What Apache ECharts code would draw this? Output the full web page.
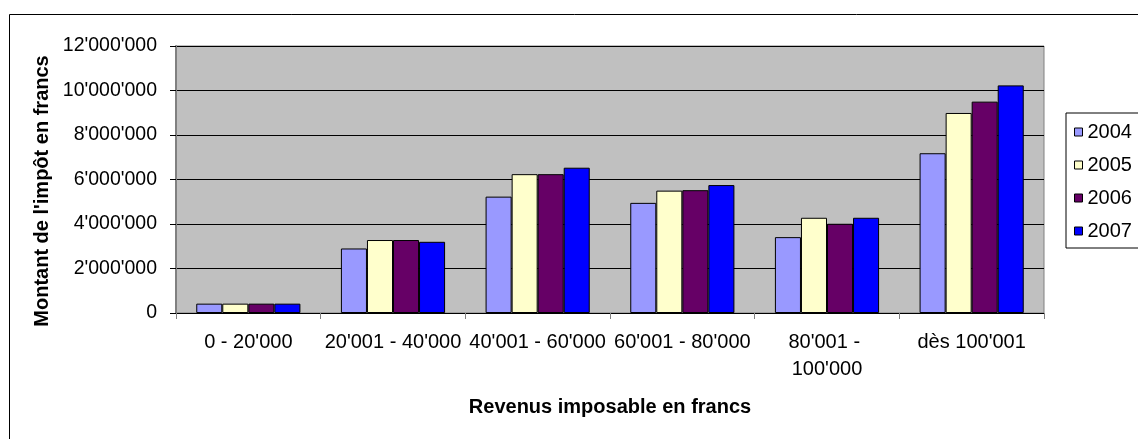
<!DOCTYPE html>
<html>
<head>
<meta charset="utf-8">
<script src="https://cdn.jsdelivr.net/npm/echarts@6/dist/echarts.min.js"></script>
<style>
  html, body { margin: 0; padding: 0; background: #fff; }
  #chart { width: 1138px; height: 439px; }
</style>
</head>
<body>
<div id="chart"></div>
<script>
// income brackets (x axis)
const categories = ['0 - 20\'000', '20\'001 - 40\'000', '40\'001 - 60\'000', '60\'001 - 80\'000', '80\'001 - 100\'000', 'dès 100\'001'];
const years = ['2004', '2005', '2006', '2007'];

// tax amount in francs
const tax2004 = [420000, 2900000, 5230000, 4950000, 3410000, 7180000];
const tax2005 = [420000, 3280000, 6240000, 5500000, 4280000, 8990000];
const tax2006 = [420000, 3280000, 6240000, 5520000, 4010000, 9500000];
const tax2007 = [420000, 3200000, 6530000, 5750000, 4280000, 10230000];

const yTicks = [0, 2000000, 4000000, 6000000, 8000000, 10000000, 12000000];

const FONT = '"Liberation Sans", Arial, sans-serif';
const colors = ['#9999FF', '#FFFFCC', '#660066', '#0000FF'];

function swissNumber(v) {
  return String(Math.round(v)).replace(/\B(?=(\d{3})+(?!\d))/g, '\'');
}

const chart = echarts.init(document.getElementById('chart'));

chart.setOption({
  backgroundColor: '#fff',
  animation: false,
  textStyle: { fontFamily: FONT, color: '#000' },
  grid: {
    left: 176, right: 94, top: 46, bottom: 126,
    show: true,
    backgroundColor: '#C0C0C0',
    borderColor: '#808080',
    borderWidth: 1
  },
  legend: {
    orient: 'vertical',
    left: 1066,
    top: 113,
    data: years,
    icon: 'rect',
    itemWidth: 8,
    itemHeight: 8,
    itemGap: 13,
    padding: [9, 8, 7, 8],
    backgroundColor: '#fff',
    borderColor: '#000',
    borderWidth: 1,
    borderRadius: 0,
    itemStyle: { borderColor: '#000', borderWidth: 1 },
    textStyle: { fontFamily: FONT, fontSize: 20, lineHeight: 20, color: '#000' }
  },
  xAxis: {
    type: 'category',
    data: categories,
    axisLine: { lineStyle: { color: '#000', width: 1 } },
    axisTick: { show: true, length: 6, lineStyle: { color: '#808080' } },
    axisLabel: {
      interval: 0,
      fontFamily: FONT,
      fontSize: 20,
      lineHeight: 27,
      color: '#000',
      margin: 16,
      width: 146,
      overflow: 'break'
    },
    splitLine: { show: false }
  },
  yAxis: {
    type: 'value',
    min: yTicks[0],
    max: yTicks[yTicks.length - 1],
    interval: 2000000,
    axisLine: { show: true, lineStyle: { color: '#808080', width: 2 } },
    axisTick: { show: true, length: 6, lineStyle: { color: '#000' } },
    axisLabel: {
      fontFamily: FONT,
      fontSize: 19.5,
      color: '#000',
      margin: 19,
      formatter: swissNumber
    },
    splitLine: { show: true, lineStyle: { color: '#000', width: 1 } }
  },
  series: [tax2004, tax2005, tax2006, tax2007].map((values, i) => ({
    name: years[i],
    type: 'bar',
    data: values,
    barGap: '0%',
    barCategoryGap: '28%',
    itemStyle: { color: colors[i], borderColor: '#000', borderWidth: 1 }
  })),
  graphic: [
    {
      type: 'rect',
      left: 7,
      top: 12,
      shape: { width: 1140, height: 440 },
      style: { fill: 'none', stroke: '#000', lineWidth: 1 },
      silent: true,
      z: -1
    },
    {
      type: 'text',
      x: 42,
      y: 191,
      rotation: Math.PI / 2,
      style: {
        text: 'Montant de l\'impôt en francs',
        font: 'bold 20px ' + FONT,
        fill: '#000',
        align: 'center',
        verticalAlign: 'middle'
      }
    },
    {
      type: 'text',
      x: 610,
      y: 407,
      style: {
        text: 'Revenus imposable en francs',
        font: 'bold 20px ' + FONT,
        fill: '#000',
        align: 'center',
        verticalAlign: 'middle'
      }
    }
  ]
});
</script>
</body>
</html>
